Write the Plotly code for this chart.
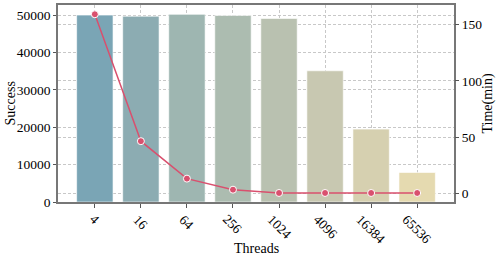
import plotly.graph_objects as go

threads = ["4", "16", "64", "256", "1024", "4096", "16384", "65536"]
success = [50000, 49700, 50200, 49900, 49100, 35100, 19500, 7900]
time_min = [159, 46.5, 13.3, 3.5, 0.6, 0.6, 0.6, 0.6]
bar_colors = ["#7aa5b5", "#8cacb2", "#9eb6b1", "#acbcb0", "#b9c1b0", "#c8c8b1", "#d6d0b0", "#e5dab0"]

font = "Times New Roman, Liberation Serif, serif"
tf = dict(family=font, size=13.5, color="black")
ttl = dict(family=font, size=14, color="black")
fig = go.Figure()
fig.add_trace(go.Bar(x=threads, y=success, marker=dict(color=bar_colors, line=dict(color="rgba(255,255,255,0.6)", width=1)),
                     width=0.79, yaxis="y", showlegend=False))
fig.add_trace(go.Scatter(x=threads, y=time_min, yaxis="y2", mode="lines+markers",
                         line=dict(color="#d9506e", width=1.5),
                         marker=dict(color="#d9506e", size=7, line=dict(color="white", width=1)),
                         showlegend=False))

# rotated category labels, centred under each tick
for i, t in enumerate(threads):
    fig.add_annotation(x=i, xref="x", y=0, yref="paper", yanchor="top", xanchor="center",
                       yshift=-7, text=t, textangle=45, showarrow=False, font=tf)

# axis titles
fig.add_annotation(x=1, xref="paper", y=0.5, yref="paper", xshift=33, xanchor="center", yanchor="middle",
                   text="Time(min)", textangle=-90, showarrow=False, font=ttl)
fig.add_annotation(x=0, xref="paper", y=0.5, yref="paper", xshift=-48, xanchor="center", yanchor="middle",
                   text="Success", textangle=-90, showarrow=False, font=ttl)
fig.add_annotation(x=0.5, xref="paper", y=0, yref="paper", yshift=-46, xanchor="center", yanchor="middle",
                   text="Threads", showarrow=False, font=ttl)

grid = dict(showgrid=True, gridcolor="#c8c8c8", griddash="3px,2px", gridwidth=0.8, automargin=False)
fig.update_layout(
    width=499, height=262, margin=dict(l=58, r=45, t=5, b=60),
    plot_bgcolor="white", paper_bgcolor="white",
    font=dict(family=font, size=14, color="black"),
    xaxis=dict(range=[-0.8, 7.8], showticklabels=False, ticks="outside", ticklen=4, tickcolor="#555",
               showline=True, linecolor="#777", linewidth=1.5, mirror=True, **grid),
    yaxis=dict(range=[0, 52700], tickvals=[0, 10000, 20000, 30000, 40000, 50000], tickformat="d",
               ticks="outside", ticklen=3, tickfont=tf,
               tickcolor="#555", showline=True, linecolor="#777", linewidth=1.5, mirror=True,
               zeroline=False, **grid),
    yaxis2=dict(range=[-7.4, 167.2], tickvals=[0, 50, 100, 150], overlaying="y", side="right", tickfont=tf,
                ticks="outside", ticklen=4, tickcolor="#555", showline=False, zeroline=False, **grid),
)
fig.write_html("out.html", config={"displayModeBar": False},
               post_script="document.body.style.margin='0';document.body.style.padding='0';")
